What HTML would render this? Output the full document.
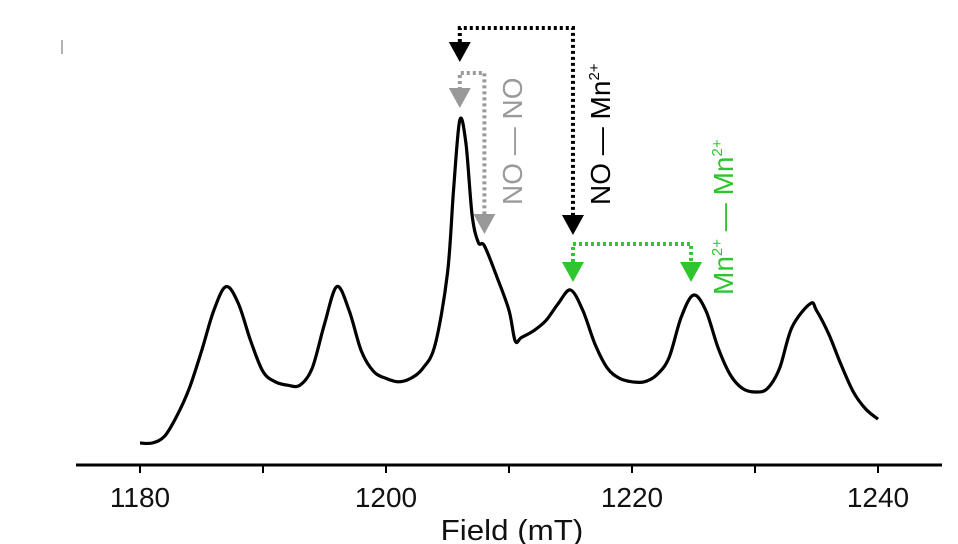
<!DOCTYPE html>
<html><head><meta charset="utf-8"><style>
body{margin:0;background:#fff;}
svg{display:block;font-family:"Liberation Sans",Arial,sans-serif;}
</style></head><body>
<svg id="chart" width="958" height="544" viewBox="0 0 958 544">
<line x1="62" y1="40" x2="62" y2="54" stroke="#999" stroke-width="1.5"/>
<g id="axis"></g>
<text x="512" y="540" font-size="29" text-anchor="middle" fill="#111" transform="translate(512,540) scale(1.08,1) translate(-512,-540)">Field (mT)</text>
<path id="trace" fill="none" stroke="#000" stroke-width="3.2" stroke-linejoin="round"/>
<g id="annot"></g>
</svg>
<script>
const fields=[1180,1181,1182,1183,1184,1185,1186,1187,1188,1189,1190,1191,1192,1193,1194,1195,1196,1197,1198,1199,1200,1201,1202,1203,1204,1205,1205.5,1206,1206.5,1207,1207.5,1208,1209,1210,1210.5,1211,1212,1213,1214,1215,1216,1217,1218,1219,1220,1221,1222,1223,1224,1225,1226,1227,1228,1229,1230,1231,1232,1233,1234.5,1235,1236,1237,1238,1239,1240];
const intensity=[5,5,7,13,21,32,44,51,46,35,26,23,22,22,27,40,51,44,32,26,24,23,24,27,34,55,80,100,93,72,64,63,54,44,35,36,38,41,46,50,44,34,27,24,23,23,25,30,42,48.5,44,33,25,21,20,21,27,39,46,44,37,28,20,15,12];
const tickValues=[1180,1190,1200,1210,1220,1230,1240];
const tickLabels=["1180","","1200","","1220","","1240"];
const X=f=>140+(f-1180)*12.3;
const Y=v=>460-v*3.4;
const NS="http://www.w3.org/2000/svg";
function mk(tag,attrs,parent){const e=document.createElementNS(NS,tag);for(const k in attrs)e.setAttribute(k,attrs[k]);parent.appendChild(e);return e;}
const ax=document.getElementById('axis');
const al=mk('line',{x1:76,y1:465,x2:942,y2:465,stroke:'#000','stroke-width':3},ax);


tickValues.forEach((t,i)=>{
 const l=mk('line',{x1:X(t),y1:465,x2:X(t),y2:473,stroke:'#000','stroke-width':2},ax);
 
 
 if(tickLabels[i]){
  const tx=mk('text',{x:X(t),y:507,'font-size':28,'text-anchor':'middle',fill:'#111'},ax);
  tx.textContent=tickLabels[i];
  
  
 }
});
const pts=fields.map((f,i)=>[X(f),Y(intensity[i])]);
let d='M'+pts[0][0].toFixed(1)+','+pts[0][1].toFixed(1);
for(let i=1;i<pts.length;i++){
 const p0=pts[Math.max(0,i-2)],p1=pts[i-1],p2=pts[i],p3=pts[Math.min(pts.length-1,i+1)];
 const c1x=p1[0]+(p2[0]-p0[0])/6,c1y=p1[1]+(p2[1]-p0[1])/6;
 const c2x=p2[0]-(p3[0]-p1[0])/6,c2y=p2[1]-(p3[1]-p1[1])/6;
 d+=`C${c1x.toFixed(1)},${c1y.toFixed(1)} ${c2x.toFixed(1)},${c2y.toFixed(1)} ${p2[0].toFixed(1)},${p2[1].toFixed(1)}`;
}
document.getElementById('trace').setAttribute('d',d);
const an=document.getElementById('annot');
function dotted(pts,col,name){const p=mk('polyline',{points:pts,fill:'none',stroke:col,'stroke-width':4,'stroke-dasharray':'3 3'},an);}
function head(x,tip,col,name){const p=mk('polygon',{points:`${x-11},${tip-20} ${x+11},${tip-20} ${x},${tip}`,fill:col},an);}
const xa=X(1206),xb=X(1208),xc=X(1215.2),xd=X(1224.8);
dotted(`${xa},42 ${xa},28 ${xc},28 ${xc},215`,'#000','no-mn-connector');
head(xa,62,'#000','no-mn-arrow-left');head(xc,235,'#000','no-mn-arrow-right');
dotted(`${xa},90 ${xa},73 ${xb},73 ${xb},215`,'#999','no-no-connector');
head(xa,108,'#999','no-no-arrow-left');head(xb,234,'#999','no-no-arrow-right');
dotted(`${xc},262 ${xc},244 ${xd},244 ${xd},262`,'#2ec52e','mn-mn-connector');
head(xc,282,'#2ec52e','mn-mn-arrow-left');head(xd,282,'#2ec52e','mn-mn-arrow-right');
function vlabel(x,y,col,html,name){const t=mk('text',{x:0,y:0,transform:`translate(${x},${y}) rotate(-90)`,'font-size':28,fill:col},an);t.innerHTML=html;}
vlabel(522,205,'#9a9a9a','NO — NO','no-no-label');
vlabel(610,205,'#000','NO — Mn<tspan font-size="15" dy="-11">2+</tspan>','no-mn-label');
vlabel(733,295,'#2ec52e','Mn<tspan font-size="15" dy="-11">2+</tspan><tspan dy="11"> — Mn</tspan><tspan font-size="15" dy="-11">2+</tspan>','mn-mn-label');
</script>
</body></html>
